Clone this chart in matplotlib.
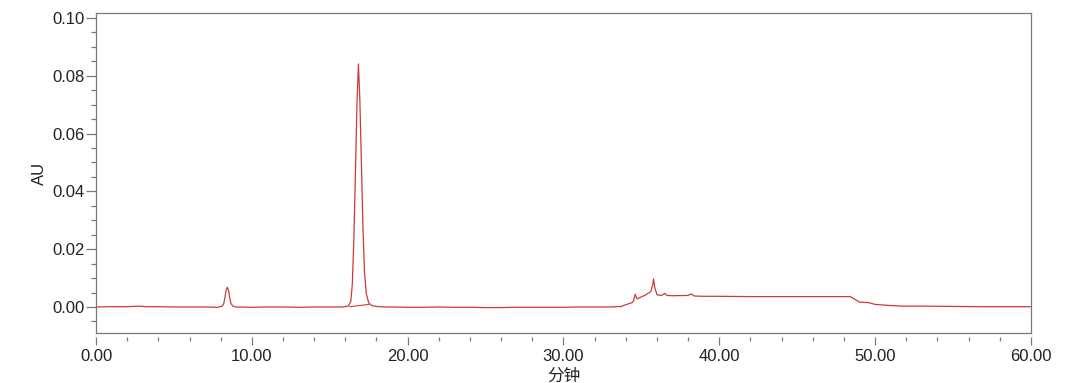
import matplotlib.pyplot as plt
from matplotlib.ticker import MultipleLocator, FormatStrFormatter

plt.rcParams['font.family'] = ['Liberation Sans', 'Noto Sans CJK SC', 'DejaVu Sans']

# retention time (min) and absorbance (AU)
time_min = [0, 1, 2, 2.8, 3.2, 4, 5, 6, 7, 7.8, 8.1, 8.2, 8.28, 8.35, 8.43,
            8.5, 8.58, 8.66, 8.78, 9.0, 10, 11, 12, 13, 14, 15, 15.8, 16.2,
            16.35, 16.45, 16.55, 16.65, 16.75, 16.84, 16.93, 17.03, 17.13,
            17.23, 17.35, 17.5, 17.7, 18.0, 18.5, 19, 20, 21, 22, 23, 24, 25,
            26, 27, 28, 29, 30, 31, 32, 33, 33.7, 34.0, 34.4, 34.5, 34.6,
            34.72, 35.2, 35.6, 35.72, 35.78, 35.85, 36.0, 36.3, 36.5, 36.65,
            37, 38.0, 38.2, 38.4, 39, 40, 42, 44, 46, 48.4, 48.6, 49.0, 49.6,
            50.0, 50.5, 51.0, 51.8, 53, 55, 57, 59, 60]
absorbance = [0.0000, 0.0001, 0.0001, 0.0003, 0.0001, 0.0001, 0.0000, 0.0000,
              0.0000, -0.0001, 0.0003, 0.0012, 0.0035, 0.0058, 0.0068,
              0.0058, 0.0032, 0.0012, 0.0003, 0.0000, -0.0001, 0.0000, 0.0000,
              -0.0001, 0.0000, 0.0000, 0.0000, 0.0003,
              0.0020, 0.0080, 0.0240, 0.0470, 0.0710, 0.0841, 0.0720, 0.0500,
              0.0275, 0.0120, 0.0045, 0.0014, 0.0005, 0.0002, 0.0000, 0.0000,
              -0.0001, -0.0001, 0.0000, -0.0001, -0.0001, -0.0002, -0.0002,
              -0.0001, -0.0001, -0.0001, -0.0001, 0.0000, 0.0000, 0.0000,
              0.0002, 0.0008, 0.0015, 0.0022, 0.0044, 0.0028, 0.0040, 0.0053,
              0.0075, 0.0097, 0.0070, 0.0042, 0.0040, 0.0047, 0.0040, 0.0039,
              0.0040, 0.0045, 0.0038, 0.0037, 0.0037, 0.0036, 0.0036, 0.0036,
              0.0036, 0.0030, 0.0017, 0.0015, 0.0009, 0.0007, 0.0005, 0.0003,
              0.0003, 0.0002, 0.0001, 0.0001, 0.0001]

# integration baseline under the main peak
base_time = [16.3, 17.5]
base_abs = [0.0001, 0.0009]

line_color = '#cc3a3e'
frame_color = '#7a7a7a'

fig = plt.figure(figsize=(10.8, 3.83), dpi=100)
ax = fig.add_axes([0.0889, 0.1305, 0.8657, 0.8355])

ax.plot(time_min, absorbance, color=line_color, lw=0.9)
ax.plot(base_time, base_abs, color=line_color, lw=0.8)

ax.set_xlim(0, 60)
ax.set_ylim(-0.009, 0.1017)

ax.xaxis.set_major_locator(MultipleLocator(10))
ax.xaxis.set_minor_locator(MultipleLocator(2))
ax.yaxis.set_major_locator(MultipleLocator(0.02))
ax.yaxis.set_minor_locator(MultipleLocator(0.005))
ax.xaxis.set_major_formatter(FormatStrFormatter('%.2f'))
ax.yaxis.set_major_formatter(FormatStrFormatter('%.2f'))

for side in ['top', 'right', 'left']:
    ax.spines[side].set_color(frame_color)
    ax.spines[side].set_linewidth(0.9)

# x ticks sit a little below the frame
ax.spines['bottom'].set_position(('outward', 3))
ax.spines['bottom'].set_visible(False)
ax.plot([0, 1], [0, 0], transform=ax.transAxes, color=frame_color,
        lw=0.9, clip_on=False)

ax.tick_params(axis='x', which='major', length=6, width=0.9, color=frame_color,
               labelsize=12, pad=2.5, labelcolor='#222222')
ax.tick_params(axis='x', which='minor', length=3.2, width=0.9, color=frame_color)
ax.tick_params(axis='y', which='major', length=7, width=0.9, color=frame_color,
               labelsize=12, pad=1, labelcolor='#222222')
ax.tick_params(axis='y', which='minor', length=3.8, width=0.9, color=frame_color)

ax.set_ylabel('AU', fontsize=12, color='#222222')
ax.yaxis.set_label_coords(-0.052, 0.5)
ax.set_xlabel('分钟', fontsize=12, color='#222222')
ax.xaxis.set_label_coords(0.5, -0.11)

fig.savefig('out.png', dpi=100)
